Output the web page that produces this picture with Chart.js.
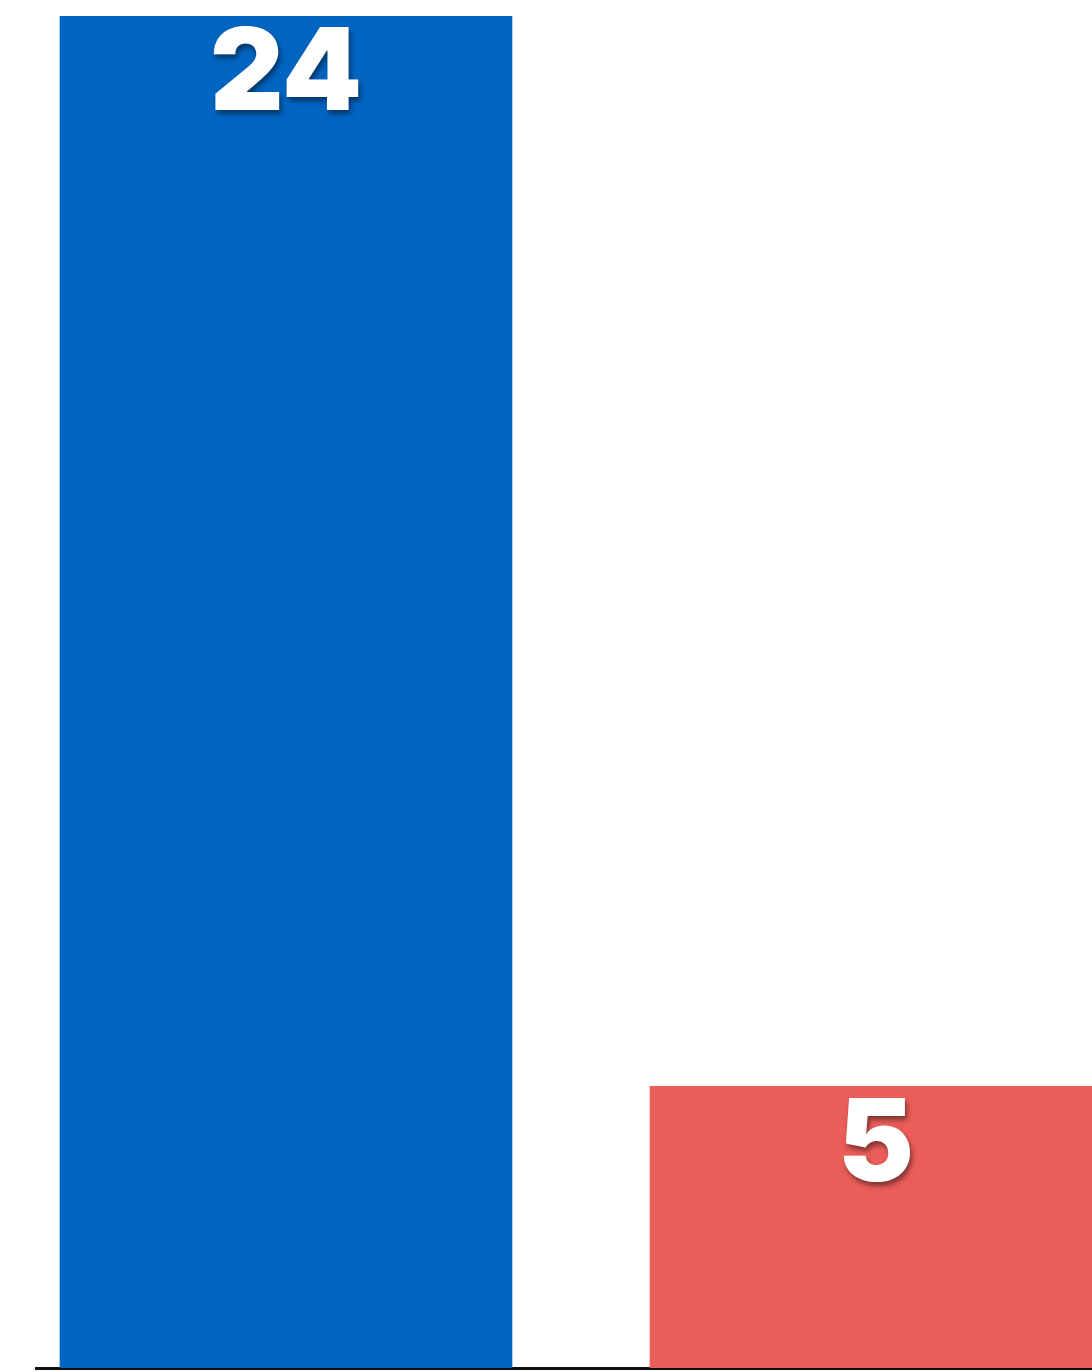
<!DOCTYPE html>
<html>
<head>
<meta charset="utf-8">
<script src="https://cdn.jsdelivr.net/npm/chart.js@4/dist/chart.umd.min.js"></script>
<style>
  html, body { margin: 0; padding: 0; background: #ffffff; overflow: hidden; }
  #wrap { position: relative; width: 1092px; height: 1372px; overflow: hidden; }
  #c { position: absolute; left: 0; top: 0; }
</style>
</head>
<body>
<div id="wrap"><canvas id="c" width="1220" height="1372"></canvas></div>
<script>
const categories = ["A", "B"];
const positions = [0, 1];
const values = [24, 5];
const valueLabels = ["24", "5"];
const barColors = ["#0064C1", "#EA5D58"];

const points = positions.map((p, i) => ({ x: p, y: values[i] }));

const labelPlugin = {
  id: 'barLabels',
  afterDatasetsDraw(chart) {
    const ctx = chart.ctx;
    const meta = chart.getDatasetMeta(0);
    ctx.save();
    ctx.font = '900 114px Inter, "Liberation Sans", Arial, sans-serif';
    ctx.textAlign = 'center';
    ctx.textBaseline = 'middle';
    ctx.fillStyle = '#ffffff';
    ctx.shadowColor = 'rgba(0,0,0,0.45)';
    ctx.shadowOffsetX = 2;
    ctx.shadowOffsetY = 4;
    ctx.shadowBlur = 5;
    meta.data.forEach((el, i) => {
      ctx.fillText(valueLabels[i], el.x, el.y + 60);
    });
    ctx.restore();
  }
};

new Chart(document.getElementById('c'), {
  type: 'bar',
  data: {
    datasets: [{
      label: 'values',
      data: points,
      backgroundColor: barColors,
      borderWidth: 0,
      barThickness: 452
    }]
  },
  options: {
    responsive: false,
    animation: false,
    devicePixelRatio: 1,
    layout: { padding: { left: 36, top: 16, right: 0, bottom: 4 } },
    plugins: { legend: { display: false }, tooltip: { enabled: false } },
    scales: {
      x: {
        type: 'linear',
        min: -0.4237,
        max: 1.583,
        offset: false,
        grid: { display: false, drawTicks: false },
        ticks: { display: false },
        border: { display: true, color: '#111111', width: 3 }
      },
      y: {
        display: false,
        min: 0,
        max: 24,
        grid: { display: false }
      }
    }
  },
  plugins: [labelPlugin]
});
</script>
</body>
</html>
